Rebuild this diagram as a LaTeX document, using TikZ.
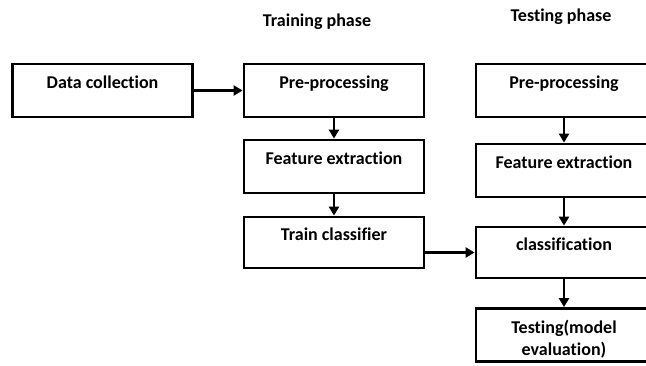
\documentclass[tikz,border=0pt]{standalone}
\usepackage{fontspec}
\setmainfont[Ligatures=NoCommon]{Carlito}
\usetikzlibrary{arrows.meta}

\begin{document}
\begin{tikzpicture}[x=1pt, y=-1pt, -{Triangle[length=9pt,width=10pt]}, line width=2.8pt, font=\bfseries\fontsize{18}{22}\selectfont,
		box/.style={rectangle, draw, minimum width=180pt, minimum height=53pt, text height=13pt, text depth=17.5pt, inner sep=0pt},
		tbox/.style={box, minimum width=176pt},
		title/.style={inner sep=0pt}]
		\useasboundingbox (0,0) rectangle (646,365);
		\node[title] (trainphase) at (317,22) {Training phase};
		\node[title] (testphase) at (561,17) {Testing phase};
		% training side
		\node[box] (dc) at (102.5,90.5) {Data collection};
		\node[box] (pre1) at (334,90.5) {Pre-processing};
		\node[box] (fe1) at (334,166.5) {Feature extraction};
		\node[box, minimum height=51pt] (train) at (334,242.5) {Train classifier};
		% testing side
		\node[tbox] (pre2) at (564,90.5) {Pre-processing};
		\node[tbox] (fe2) at (564,170.5) {Feature extraction};
		\node[tbox, minimum height=51pt] (cls) at (564,252.5) {classification};
		\node[tbox, align=center, text height=45pt, text depth=4.5pt] (test) at (564,335) {Testing(model\\evaluation)};
		\path
		(dc) edge (pre1)
		(pre1) edge (fe1)
		(fe1) edge (train)
		(train.east |- cls.west) edge (cls.west)
		(pre2) edge (fe2)
		(fe2) edge (cls)
		(cls) edge (test);
	\end{tikzpicture}
\end{document}
